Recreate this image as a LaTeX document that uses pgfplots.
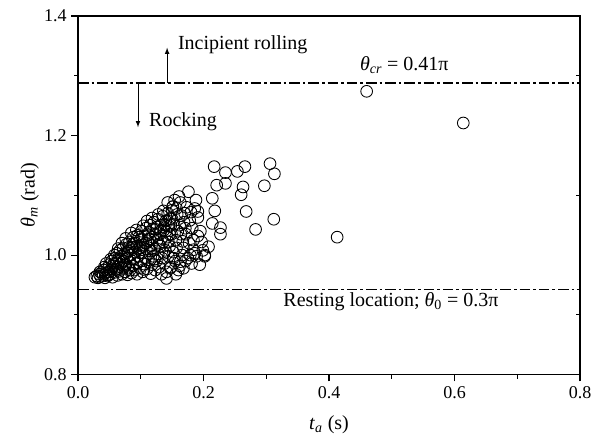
\documentclass[border=0pt]{standalone}
\usepackage{fontspec}
\setmainfont{Liberation Serif}
\usepackage{pgfplots}
\pgfplotsset{compat=1.18}

\pgfplotstableread{
t      th
0.027  0.963
0.030  0.965
0.032  0.962
0.034  0.968
0.036  0.964
0.038  0.971
0.040  0.966
0.041  0.975
0.043  0.962
0.044  0.970
0.046  0.978
0.047  0.965
0.049  0.972
0.050  0.984
0.051  0.968
0.053  0.977
0.054  0.990
0.055  0.963
0.056  0.982
0.058  0.971
0.059  0.995
0.060  0.976
0.061  0.987
0.062  1.003
0.063  0.966
0.064  0.980
0.065  0.993
0.066  0.973
0.067  1.008
0.068  0.985
0.069  0.998
0.070  0.968
0.071  0.978
0.072  1.012
0.073  0.990
0.074  1.002
0.075  0.972
0.076  0.983
0.077  1.018
0.078  0.995
0.079  0.967
0.080  1.007
0.081  0.978
0.082  1.022
0.083  0.988
0.084  1.000
0.085  0.970
0.086  1.013
0.087  0.982
0.088  1.030
0.089  0.993
0.090  0.975
0.091  1.005
0.092  1.020
0.093  0.986
0.094  0.968
0.095  1.033
0.096  0.998
0.097  1.011
0.098  0.979
0.099  1.026
0.100  0.990
0.101  1.040
0.102  1.004
0.103  0.972
0.104  1.017
0.105  0.985
0.106  1.032
0.107  0.996
0.108  1.045
0.109  1.010
0.110  0.977
0.111  1.024
0.112  0.992
0.113  1.038
0.114  1.003
0.115  1.050
0.116  0.969
0.117  1.016
0.118  0.984
0.119  1.030
0.120  0.998
0.121  1.055
0.122  1.010
0.123  0.975
0.124  1.043
0.125  0.990
0.126  1.025
0.127  1.060
0.128  1.002
0.129  0.980
0.130  1.036
0.131  1.015
0.132  1.050
0.133  0.968
0.134  0.995
0.135  1.065
0.136  1.022
0.137  1.042
0.138  0.986
0.139  1.008
0.140  1.057
0.141  0.972
0.142  1.030
0.143  1.070
0.144  0.998
0.145  1.048
0.146  1.015
0.147  1.061
0.148  0.980
0.149  1.035
0.150  1.075
0.151  1.081
0.152  1.005
0.153  1.052
0.155  0.990
0.156  1.025
0.158  1.068
0.159  1.040
0.160  0.975
0.141  0.961
0.147  0.978
0.163  0.989
0.168  0.978
0.181  0.986
0.194  0.984
0.202  0.998
0.208  1.014
0.167  1.023
0.184  1.009
0.202  1.000
0.184  1.025
0.191  1.032
0.171  1.045
0.147  1.061
0.165  1.066
0.191  1.063
0.191  1.073
0.151  1.081
0.163  1.088
0.188  1.092
0.176  1.106
0.172  1.035
0.178  1.058
0.168  1.012
0.175  0.995
0.186  1.003
0.195  1.040
0.214  1.053
0.227  1.046
0.227  1.035
0.218  1.074
0.214  1.095
0.221  1.117
0.217  1.148
0.235  1.138
0.235  1.120
0.254  1.140
0.266  1.148
0.263  1.114
0.260  1.101
0.268  1.073
0.283  1.043
0.297  1.116
0.306  1.153
0.313  1.136
0.312  1.060
0.413  1.030
0.460  1.274
0.614  1.221
0.035  0.972
0.042  0.980
0.048  0.967
0.052  0.974
0.057  0.986
0.062  0.976
0.066  0.990
0.071  0.996
0.074  0.981
0.078  1.004
0.083  0.975
0.087  1.009
0.090  0.996
0.094  1.015
0.098  1.004
0.102  1.026
0.105  0.976
0.108  1.020
0.112  1.034
0.116  1.007
0.119  1.044
0.122  0.993
0.126  1.047
0.129  1.018
0.133  1.028
0.137  1.003
0.140  1.040
0.144  1.022
0.148  1.050
0.152  0.995
0.157  1.012
0.162  1.050
0.166  1.000
0.170  1.070
0.180  1.072
0.045  0.986
0.052  0.993
0.058  1.000
0.064  1.011
0.070  1.020
0.076  1.028
0.081  1.013
0.085  1.037
0.089  1.019
0.093  1.042
0.097  1.030
0.101  1.012
0.104  1.049
0.110  1.057
0.114  1.027
0.118  1.062
0.123  1.035
0.128  1.068
0.132  1.040
0.136  1.074
0.139  1.050
0.143  1.088
0.146  1.035
0.150  1.060
0.154  1.092
0.157  1.078
0.161  1.098
0.164  1.035
0.169  1.055
0.173  1.080
0.177  1.020
0.182  1.045
0.186  1.078
0.189  0.998
0.197  1.022
0.199  1.008
0.156  0.968
0.162  0.982
0.171  0.990
0.179  1.000
}\pts

\begin{document}
\begin{tikzpicture}
\begin{axis}[
    scale only axis,
    width=376.5pt,
    height=269pt,
    xmin=0, xmax=0.8,
    ymin=0.8, ymax=1.4,
    xtick={0,0.2,0.4,0.6,0.8},
    ytick={0.8,1.0,1.2,1.4},
    minor xtick={0.1,0.3,0.5,0.7},
    minor ytick={0.9,1.1,1.3},
    xtick pos=bottom,
    ytick pos=left,
    tick align=outside,
    major tick length=5pt,
    minor tick length=3pt,
    axis line style={line width=1.1pt},
    every tick/.style={black, line width=0.9pt},
    tick label style={font=\fontsize{13.5}{15}\selectfont},
    /pgf/number format/assume math mode=true,
    xticklabel style={/pgf/number format/.cd, fixed, fixed zerofill, precision=1},
    yticklabel style={/pgf/number format/.cd, fixed, fixed zerofill, precision=1},
    xlabel={\textit{t}\textsubscript{\textit{a}} (s)},
    ylabel={\textit{θ}\textsubscript{\textit{m}} (rad)},
    label style={font=\fontsize{15}{18}\selectfont},
    xlabel style={at={(axis description cs:0.5,-0.14)}, anchor=center},
    ylabel style={at={(axis description cs:-0.096,0.5)}, anchor=center},
    clip=false,
]
% fixed page frame, invisible
\path ([shift={(-58.5pt,-48pt)}]rel axis cs:0,0) rectangle ([shift={(15pt,12pt)}]rel axis cs:1,1);

\addplot[only marks, mark=o, mark size=4.4pt, mark options={line width=0.65pt, draw=black}]
    table[x=t, y=th] {\pts};

% threshold lines
\addplot[black, line width=1.3pt, dash pattern=on 8pt off 2.2pt on 2pt off 2.2pt]
    coordinates {(0,1.288) (0.8,1.288)};
\addplot[black, line width=1.3pt, dash pattern=on 8pt off 2.2pt on 2pt off 2.2pt]
    coordinates {(0,0.9425) (0.8,0.9425)};

% right axis minor ticks (inside)
\draw[line width=0.9pt] (axis cs:0.8,0.9) -- ([xshift=-3pt]axis cs:0.8,0.9);
\draw[line width=0.9pt] (axis cs:0.8,1.1) -- ([xshift=-3pt]axis cs:0.8,1.1);
\draw[line width=0.9pt] (axis cs:0.8,1.3) -- ([xshift=-3pt]axis cs:0.8,1.3);

\draw[-latex, line width=0.6pt] (axis cs:0.142,1.288) -- (axis cs:0.142,1.347);
\draw[-latex, line width=0.6pt] (axis cs:0.0956,1.288) -- (axis cs:0.0956,1.214);

\node[anchor=west, inner sep=0pt, font=\fontsize{15}{18}\selectfont] at (axis cs:0.159,1.352) {Incipient rolling};
\node[anchor=west, inner sep=0pt, font=\fontsize{15}{18}\selectfont] at (axis cs:0.113,1.223) {Rocking};
\node[anchor=west, inner sep=0pt, font=\fontsize{15}{18}\selectfont] at (axis cs:0.449,1.318) {\textit{θ}\textsubscript{\textit{cr}} = 0.41π};
\node[anchor=west, inner sep=0pt, font=\fontsize{15}{18}\selectfont] at (axis cs:0.327,0.922) {Resting location; \textit{θ}\textsubscript{0} = 0.3π};
\end{axis}
\end{tikzpicture}
\end{document}
